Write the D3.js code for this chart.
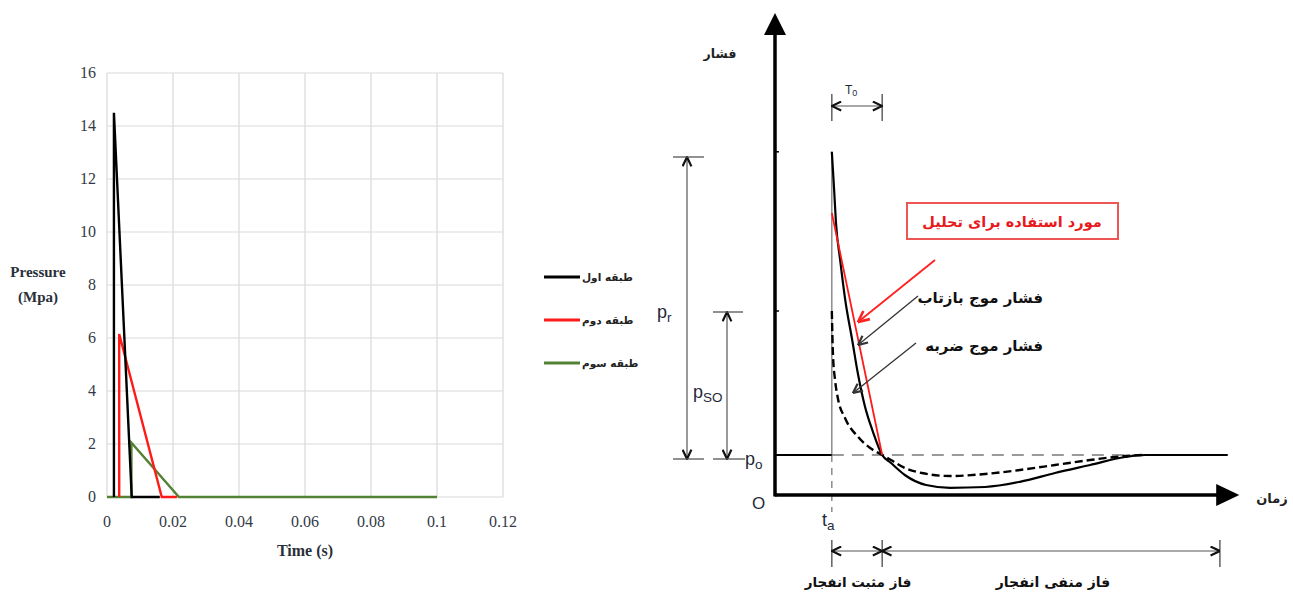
<!DOCTYPE html>
<html><head><meta charset="utf-8">
<script src="https://cdn.jsdelivr.net/npm/d3@7/dist/d3.min.js"></script>
<style>body{margin:0;background:#fff}svg{display:block}</style>
</head><body>
<svg id="c" width="1293" height="594"></svg>
<script>
// ---------- Left chart data ----------
const xTickValues = [0, 0.02, 0.04, 0.06, 0.08, 0.1, 0.12];
const xTickLabels = ["0", "0.02", "0.04", "0.06", "0.08", "0.1", "0.12"];
const yTickValues = [0, 2, 4, 6, 8, 10, 12, 14, 16];
const seriesNames = ["طبقه اول", "طبقه دوم", "طبقه سوم"];
const seriesColors = ["#000000", "#ff1a1a", "#548235"];
const blackTime = [0.0021, 0.0021, 0.0075, 0.016];
const blackPressure = [0, 14.5, 0, 0];
const redTime = [0.0037, 0.0037, 0.0166, 0.0212];
const redPressure = [0, 6.15, 0, 0];
const greenTime = [0, 0.0074, 0.0074, 0.0218, 0.1];
const greenPressure = [0, 0, 2.05, 0, 0];

// ---------- Right diagram data (arbitrary units) ----------
const tA = 12.3, tPos = 23.2, tNeg = 96.3, tEnd = 98;
const p0 = 10, pPeakR = 85.8, pPeakS = 46, pRed = 70.5;
const reflTime = [12.3, 12.8, 13.2, 14.1, 15.2, 16.7, 18, 19.5, 21.2, 23.2, 25.1, 28.1, 32.7, 37.9, 45.5, 53, 60.6, 68.2, 75.8, 80.1, 98];
const reflPressure = [85.8, 76.3, 68, 58.8, 48.8, 38.8, 30, 22, 15.8, 10, 8, 5, 2.5, 1.8, 2, 3.3, 5.5, 7.5, 9.5, 10, 10];
const incTime = [12.3, 12.55, 13, 13.6, 15.15, 18, 20.6, 23.2, 25.1, 28.1, 31.8, 37.9, 45.5, 53, 60.6, 68.2, 75.8, 79.4];
const incPressure = [46, 35, 28.75, 24.25, 19.25, 14.5, 11.75, 10, 8.75, 6.75, 5.5, 4.75, 5.25, 6.25, 7.5, 8.75, 9.75, 10];
const redLineTime = [12.3, 23.2];
const redLinePressure = [70.5, 10];

const svg = d3.select("#c");
const serif = "'Liberation Serif', 'Times New Roman', serif";
const arab = "'DejaVu Sans', 'Noto Sans', sans-serif";

// ================= LEFT CHART =================
const xL = d3.scaleLinear().domain([0, 0.12]).range([107, 503]);
const yL = d3.scaleLinear().domain([0, 16]).range([497, 73]);
const gL = svg.append("g");
gL.selectAll("line.vg").data(xTickValues).join("line")
  .attr("x1", d => xL(d)).attr("x2", d => xL(d)).attr("y1", yL(0)).attr("y2", yL(16))
  .attr("stroke", "#d9d9d9").attr("stroke-width", 1.2);
gL.selectAll("line.hg").data(yTickValues).join("line")
  .attr("x1", xL(0)).attr("x2", xL(0.12)).attr("y1", d => yL(d)).attr("y2", d => yL(d))
  .attr("stroke", "#d9d9d9").attr("stroke-width", 1.2);
gL.selectAll("text.yt").data(yTickValues).join("text")
  .attr("x", 96).attr("y", d => yL(d) + 5).attr("text-anchor", "end")
  .attr("font-family", serif).attr("font-size", 16).attr("fill", "#333a45").text(d => d);
gL.selectAll("text.xt").data(xTickValues).join("text")
  .attr("x", d => xL(d)).attr("y", 527).attr("text-anchor", "middle")
  .attr("font-family", serif).attr("font-size", 16).attr("fill", "#333a45")
  .text((d, i) => xTickLabels[i]);
gL.append("text").attr("x", 38).attr("y", 277).attr("text-anchor", "middle")
  .attr("font-family", serif).attr("font-size", 15).attr("font-weight", "bold").attr("fill", "#2a2f3a").text("Pressure");
gL.append("text").attr("x", 38).attr("y", 302).attr("text-anchor", "middle")
  .attr("font-family", serif).attr("font-size", 15).attr("font-weight", "bold").attr("fill", "#2a2f3a").text("(Mpa)");
gL.append("text").attr("x", 305).attr("y", 556).attr("text-anchor", "middle")
  .attr("font-family", serif).attr("font-size", 16).attr("font-weight", "bold").attr("fill", "#2a2f3a").text("Time (s)");

const lineL = d3.line().x(d => xL(d[0])).y(d => yL(d[1]));
const seriesData = [
  d3.zip(greenTime, greenPressure),
  d3.zip(redTime, redPressure),
  d3.zip(blackTime, blackPressure)
];
const seriesDrawColors = [seriesColors[2], seriesColors[1], seriesColors[0]];
seriesData.forEach((s, i) => {
  gL.append("path").attr("d", lineL(s)).attr("fill", "none")
    .attr("stroke", seriesDrawColors[i]).attr("stroke-width", 2.4).attr("stroke-linejoin", "miter");
});
// Legend
const legY = [277, 320, 363];
seriesNames.forEach((n, i) => {
  gL.append("line").attr("x1", 544).attr("x2", 580).attr("y1", legY[i]).attr("y2", legY[i])
    .attr("stroke", seriesColors[i]).attr("stroke-width", 3);
  gL.append("text").attr("x", 582).attr("y", legY[i] + 4).attr("text-anchor", "start")
    .attr("font-family", arab).attr("font-size", 10.5).attr("font-weight", "bold").attr("fill", "#222").text(n);
});

// ================= RIGHT DIAGRAM =================
const xR = d3.scaleLinear().domain([0, 100]).range([775, 1237]);
const yR = d3.scaleLinear().domain([0, 120]).range([495, 15]);
const gR = svg.append("g");
const defs = svg.append("defs");
function chev(id, color, size) {
  defs.append("marker").attr("id", id).attr("viewBox", "0 0 10 10").attr("refX", 9.5).attr("refY", 5)
    .attr("markerWidth", size).attr("markerHeight", size).attr("markerUnits", "userSpaceOnUse")
    .attr("orient", "auto-start-reverse")
    .append("path").attr("d", "M1,1 L9.5,5 L1,9").attr("fill", "none").attr("stroke", color).attr("stroke-width", 2);
}
chev("chk", "#111", 11);
chev("chg", "#333", 11);
chev("chr", "#ff2020", 13);

const grey = "#7a7a7a";
// ta vertical line
gR.append("line").attr("x1", xR(tA)).attr("x2", xR(tA)).attr("y1", yR(pPeakR)).attr("y2", yR(p0))
  .attr("stroke", grey).attr("stroke-width", 1.3);
gR.append("line").attr("x1", xR(tA)).attr("x2", xR(tA)).attr("y1", yR(p0)).attr("y2", 512)
  .attr("stroke", grey).attr("stroke-width", 1.3).attr("stroke-dasharray", "7,6");
// p0 lines
gR.append("line").attr("x1", xR(0)).attr("x2", xR(tA)).attr("y1", yR(p0)).attr("y2", yR(p0))
  .attr("stroke", "#000").attr("stroke-width", 2);
gR.append("line").attr("x1", xR(tA)).attr("x2", xR(tEnd)).attr("y1", yR(p0)).attr("y2", yR(p0))
  .attr("stroke", grey).attr("stroke-width", 1.3).attr("stroke-dasharray", "12,8");

const lineR = d3.line().x(d => xR(d[0])).y(d => yR(d[1])).curve(d3.curveMonotoneX);
const lineRL = d3.line().x(d => xR(d[0])).y(d => yR(d[1]));
gR.append("path").attr("d", lineR(d3.zip(incTime, incPressure))).attr("fill", "none")
  .attr("stroke", "#000").attr("stroke-width", 2.4).attr("stroke-dasharray", "8,4");
gR.append("path").attr("d", lineR(d3.zip(reflTime, reflPressure))).attr("fill", "none")
  .attr("stroke", "#000").attr("stroke-width", 2.2);
gR.append("path").attr("d", lineRL(d3.zip(redLineTime, redLinePressure))).attr("fill", "none")
  .attr("stroke", "#ff1a1a").attr("stroke-width", 1.8);

// axes
gR.append("line").attr("x1", xR(0)).attr("x2", xR(0)).attr("y1", yR(0) + 1.5).attr("y2", yR(115))
  .attr("stroke", "#000").attr("stroke-width", 3.5);
gR.append("path").attr("d", `M${xR(0)},${yR(120.5)} L${xR(0) - 11},${yR(115)} L${xR(0) + 11},${yR(115)} Z`).attr("fill", "#000");
gR.append("line").attr("x1", xR(0)).attr("x2", xR(96)).attr("y1", yR(0)).attr("y2", yR(0))
  .attr("stroke", "#000").attr("stroke-width", 3.5);
gR.append("path").attr("d", `M${xR(100.5)},${yR(0)} L${xR(95.5)},${yR(0) - 11} L${xR(95.5)},${yR(0) + 11} Z`).attr("fill", "#000");
// small ticks on y axis
[pPeakR, pPeakS].forEach(p => gR.append("line").attr("x1", xR(0)).attr("x2", xR(0) + 4)
  .attr("y1", yR(p)).attr("y2", yR(p)).attr("stroke", "#000").attr("stroke-width", 1.5));

// dimension Pr
const dimC = "#555";
gR.append("line").attr("x1", 687).attr("x2", 687).attr("y1", yR(84.5)).attr("y2", yR(9))
  .attr("stroke", dimC).attr("stroke-width", 1.2)
  .attr("marker-start", "url(#chk)").attr("marker-end", "url(#chk)");
gR.append("line").attr("x1", 673).attr("x2", 704).attr("y1", yR(84.5)).attr("y2", yR(84.5)).attr("stroke", dimC).attr("stroke-width", 1.3);
gR.append("line").attr("x1", 673).attr("x2", 704).attr("y1", yR(9)).attr("y2", yR(9)).attr("stroke", dimC).attr("stroke-width", 1.3);
// dimension Pso
gR.append("line").attr("x1", 727).attr("x2", 727).attr("y1", yR(45.75)).attr("y2", yR(9))
  .attr("stroke", dimC).attr("stroke-width", 1.2)
  .attr("marker-start", "url(#chk)").attr("marker-end", "url(#chk)");
gR.append("line").attr("x1", 713).attr("x2", 743).attr("y1", yR(45.75)).attr("y2", yR(45.75)).attr("stroke", dimC).attr("stroke-width", 1.3);
gR.append("line").attr("x1", 713).attr("x2", 745).attr("y1", yR(9)).attr("y2", yR(9)).attr("stroke", dimC).attr("stroke-width", 1.3);

const labC = "#1e2a3a";
function sub(x, y, main, s, fs) {
  const t = gR.append("text").attr("x", x).attr("y", y).attr("font-family", "'Liberation Sans', Arial, sans-serif")
    .attr("font-size", fs).attr("fill", labC);
  t.append("tspan").text(main);
  t.append("tspan").attr("font-size", fs * 0.75).attr("dy", 4).text(s);
  return t;
}
sub(657, 318, "p", "r", 18);
sub(693, 398, "p", "SO", 18);
sub(745, 465, "p", "o", 18);
gR.append("text").attr("x", 752).attr("y", 509).attr("font-family", "'Liberation Sans', Arial, sans-serif")
  .attr("font-size", 17).attr("fill", labC).text("O");
sub(822, 526, "t", "a", 18);

// T0 dimension
[tA, tPos].forEach(t => gR.append("line").attr("x1", xR(t)).attr("x2", xR(t)).attr("y1", 94).attr("y2", 121)
  .attr("stroke", dimC).attr("stroke-width", 1.4));
gR.append("line").attr("x1", xR(tA)).attr("x2", xR(tPos)).attr("y1", 106).attr("y2", 106)
  .attr("stroke", dimC).attr("stroke-width", 1.2).attr("marker-start", "url(#chk)").attr("marker-end", "url(#chk)");
const t0 = gR.append("text").attr("x", 845).attr("y", 94).attr("font-family", "'Liberation Sans', Arial, sans-serif")
  .attr("font-size", 12).attr("fill", labC);
t0.append("tspan").text("T");
t0.append("tspan").attr("font-size", 9).attr("dy", 2).text("0");

// phase dimension at bottom
[tA, tPos, tNeg].forEach(t => gR.append("line").attr("x1", xR(t)).attr("x2", xR(t)).attr("y1", 540).attr("y2", 567)
  .attr("stroke", dimC).attr("stroke-width", 1.4));
gR.append("line").attr("x1", xR(tA)).attr("x2", xR(tPos)).attr("y1", 551).attr("y2", 551)
  .attr("stroke", dimC).attr("stroke-width", 1.2).attr("marker-start", "url(#chk)").attr("marker-end", "url(#chk)");
gR.append("line").attr("x1", xR(tPos)).attr("x2", xR(tNeg)).attr("y1", 551).attr("y2", 551)
  .attr("stroke", dimC).attr("stroke-width", 1.2).attr("marker-start", "url(#chk)").attr("marker-end", "url(#chk)");
gR.append("text").attr("x", 858).attr("y", 587).attr("text-anchor", "middle").attr("font-family", arab)
  .attr("font-size", 13.5).attr("font-weight", "bold").attr("fill", "#111").text("فاز مثبت انفجار");
gR.append("text").attr("x", 1053).attr("y", 587).attr("text-anchor", "middle").attr("font-family", arab)
  .attr("font-size", 14).attr("font-weight", "bold").attr("fill", "#111").text("فاز منفی انفجار");

// axis titles
gR.append("text").attr("x", 720).attr("y", 58).attr("text-anchor", "middle").attr("font-family", arab)
  .attr("font-size", 12.5).attr("font-weight", "bold").attr("fill", "#222").text("فشار");
gR.append("text").attr("x", 1272).attr("y", 503).attr("text-anchor", "middle").attr("font-family", arab)
  .attr("font-size", 13).attr("font-weight", "bold").attr("fill", "#222").text("زمان");

// red box annotation
gR.append("rect").attr("x", 907).attr("y", 203).attr("width", 211).attr("height", 36)
  .attr("fill", "#fff").attr("stroke", "#ee5555").attr("stroke-width", 2);
gR.append("text").attr("x", 1012).attr("y", 227).attr("text-anchor", "middle").attr("font-family", arab)
  .attr("font-size", 14.5).attr("font-weight", "bold").attr("fill", "#e8191b").text("مورد استفاده برای تحلیل");
gR.append("line").attr("x1", 935).attr("y1", 260).attr("x2", 858).attr("y2", 322)
  .attr("stroke", "#ff2020").attr("stroke-width", 1.8).attr("marker-end", "url(#chr)");
// black arrows
gR.append("line").attr("x1", 918).attr("y1", 296).attr("x2", 858).attr("y2", 345)
  .attr("stroke", "#333").attr("stroke-width", 1.3).attr("marker-end", "url(#chg)");
gR.append("line").attr("x1", 916).attr("y1", 343).attr("x2", 853).attr("y2", 393)
  .attr("stroke", "#333").attr("stroke-width", 1.3).attr("marker-end", "url(#chg)");
gR.append("text").attr("x", 1043).attr("y", 303).attr("text-anchor", "end").attr("font-family", arab)
  .attr("font-size", 15).attr("font-weight", "bold").attr("fill", "#111").text("فشار موج بازتاب");
gR.append("text").attr("x", 1043).attr("y", 351).attr("text-anchor", "end").attr("font-family", arab)
  .attr("font-size", 15).attr("font-weight", "bold").attr("fill", "#111").text("فشار موج ضربه");
</script>
</body></html>
